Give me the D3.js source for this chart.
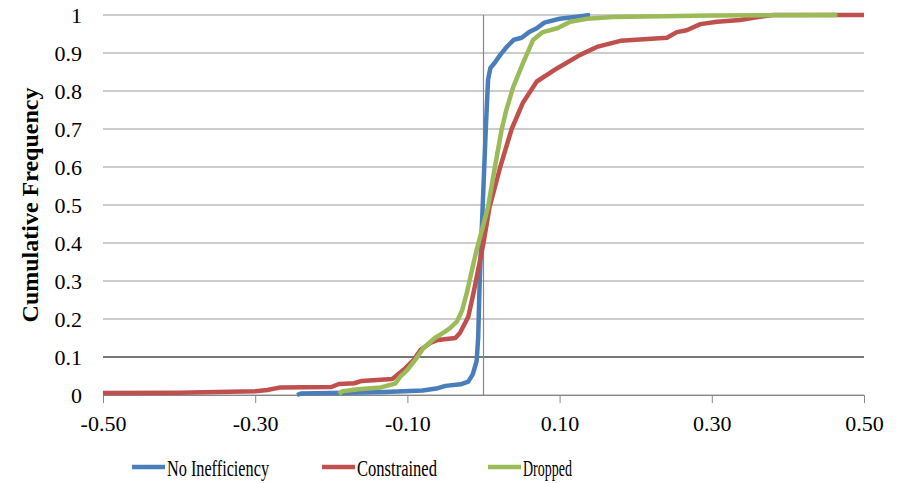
<!DOCTYPE html>
<html>
<head>
<meta charset="utf-8">
<script src="https://cdn.jsdelivr.net/npm/d3@7"></script>
<style>
  body { margin: 0; background: #fff; }
  text { font-family: "Liberation Serif", "Times New Roman", serif; fill: #000; }
</style>
</head>
<body>
<div id="chart"></div>
<script>
// cumulative frequency curves, [value, share]
var noIneff = [[-0.245,0],[-0.24,0.004],[-0.18,0.006],[-0.13,0.008],[-0.08,0.012],[-0.06,0.018],
  [-0.05,0.024],[-0.03,0.028],[-0.02,0.035],[-0.014,0.055],[-0.009,0.09],[-0.007,0.15],[-0.005,0.3],
  [-0.002,0.45],[0.0,0.55],[0.003,0.7],[0.006,0.83],[0.009,0.86],[0.015,0.875],[0.022,0.895],
  [0.03,0.915],[0.04,0.935],[0.05,0.94],[0.06,0.955],[0.07,0.965],[0.08,0.98],[0.1,0.99],
  [0.12,0.995],[0.14,1.0]];
var constrained = [[-0.5,0.005],[-0.4,0.006],[-0.3,0.01],[-0.284,0.013],[-0.267,0.02],[-0.2,0.021],
  [-0.19,0.029],[-0.17,0.031],[-0.16,0.037],[-0.12,0.042],[-0.115,0.05],[-0.103,0.07],[-0.092,0.092],
  [-0.083,0.118],[-0.07,0.137],[-0.06,0.145],[-0.037,0.15],[-0.031,0.163],[-0.02,0.206],[-0.013,0.27],
  [-0.007,0.33],[-0.002,0.38],[0.0,0.4],[0.008,0.495],[0.022,0.6],[0.037,0.7],[0.052,0.77],
  [0.07,0.825],[0.097,0.86],[0.127,0.895],[0.149,0.916],[0.18,0.932],[0.241,0.94],[0.254,0.955],
  [0.267,0.96],[0.285,0.976],[0.307,0.982],[0.337,0.987],[0.363,0.995],[0.38,1.0],[0.5,1.0]];
var dropped = [[-0.19,0.003],[-0.185,0.01],[-0.165,0.015],[-0.135,0.02],[-0.116,0.03],[-0.11,0.047],
  [-0.1,0.066],[-0.088,0.097],[-0.079,0.123],[-0.064,0.15],[-0.051,0.166],[-0.044,0.176],
  [-0.035,0.193],[-0.028,0.223],[-0.022,0.268],[-0.015,0.33],[-0.009,0.382],[0.006,0.495],
  [0.015,0.6],[0.024,0.7],[0.03,0.75],[0.039,0.81],[0.052,0.874],[0.065,0.934],[0.078,0.955],
  [0.097,0.965],[0.114,0.982],[0.136,0.99],[0.17,0.995],[0.3,0.999],[0.465,1.0]];

var xTicks = [-0.5, -0.3, -0.1, 0.1, 0.3, 0.5];
var yTicks = [0, 0.1, 0.2, 0.3, 0.4, 0.5, 0.6, 0.7, 0.8, 0.9, 1];
var seriesNames = ["No Inefficiency", "Constrained", "Dropped"];
var colors = ["#4a7ebb", "#c0504d", "#9bbb59"];

var width = 904, height = 483;
var plotLeft = 103, plotRight = 864, plotTop = 15, plotBottom = 395;

var svg = d3.select("#chart").append("svg")
  .attr("width", width)
  .attr("height", height);

var x = d3.scaleLinear().domain([-0.5, 0.5]).range([plotLeft, plotRight]);
var y = d3.scaleLinear().domain([0, 1]).range([plotBottom, plotTop]);

// horizontal grid
svg.append("g").selectAll("line")
  .data(yTicks)
  .enter().append("line")
    .attr("x1", plotLeft).attr("x2", plotRight)
    .attr("y1", function(d) { return y(d); })
    .attr("y2", function(d) { return y(d); })
    .attr("stroke", function(d) { return d == 0.1 ? "#777" : "#999"; })
    .attr("stroke-width", function(d) { return d == 0.1 ? 2 : 1.2; });

// vertical line at zero
svg.append("line")
  .attr("x1", x(0)).attr("x2", x(0))
  .attr("y1", plotTop).attr("y2", plotBottom)
  .attr("stroke", "#888").attr("stroke-width", 1.2);

// x axis
var xAxis = svg.append("g")
  .attr("transform", "translate(0," + plotBottom + ")")
  .call(d3.axisBottom(x).tickValues(xTicks).tickSize(8).tickPadding(12)
    .tickFormat(function(d) { return d.toFixed(2); }));
xAxis.select(".domain").attr("stroke", "#888");
xAxis.selectAll(".tick line").attr("stroke", "#888");
xAxis.selectAll("text")
  .style("font-family", "Liberation Serif")
  .style("font-size", "22px");

// y labels
svg.append("g").selectAll("text")
  .data(yTicks)
  .enter().append("text")
    .attr("x", 82)
    .attr("y", function(d) { return y(d); })
    .attr("dy", "0.35em")
    .attr("text-anchor", "end")
    .style("font-size", "22px")
    .text(function(d) { return d == 0 || d == 1 ? d : d.toFixed(1); });

svg.append("text")
  .attr("transform", "translate(38,205) rotate(-90)")
  .attr("text-anchor", "middle")
  .style("font-size", "24px")
  .style("font-weight", "bold")
  .text("Cumulative Frequency");

// curves
var line = d3.line()
  .x(function(d) { return x(d[0]); })
  .y(function(d) { return y(d[1]); });

var allData = [noIneff, constrained, dropped];
[0, 1, 2].forEach(function(i) {
  svg.append("path")
    .datum(allData[i])
    .attr("d", line)
    .attr("fill", "none")
    .attr("stroke", colors[i])
    .attr("stroke-width", 4.5)
    .attr("stroke-linejoin", "round");
});

// legend
var legX = [132, 322, 488];
var legW = [102, 80, 49];
seriesNames.forEach(function(name, i) {
  svg.append("line")
    .attr("x1", legX[i]).attr("x2", legX[i] + 33)
    .attr("y1", 467).attr("y2", 467)
    .attr("stroke", colors[i])
    .attr("stroke-width", 4.5);
  svg.append("text")
    .attr("x", legX[i] + 35)
    .attr("y", 476)
    .attr("textLength", legW[i])
    .attr("lengthAdjust", "spacingAndGlyphs")
    .style("font-size", "23px")
    .text(name);
});
</script>
</body>
</html>
